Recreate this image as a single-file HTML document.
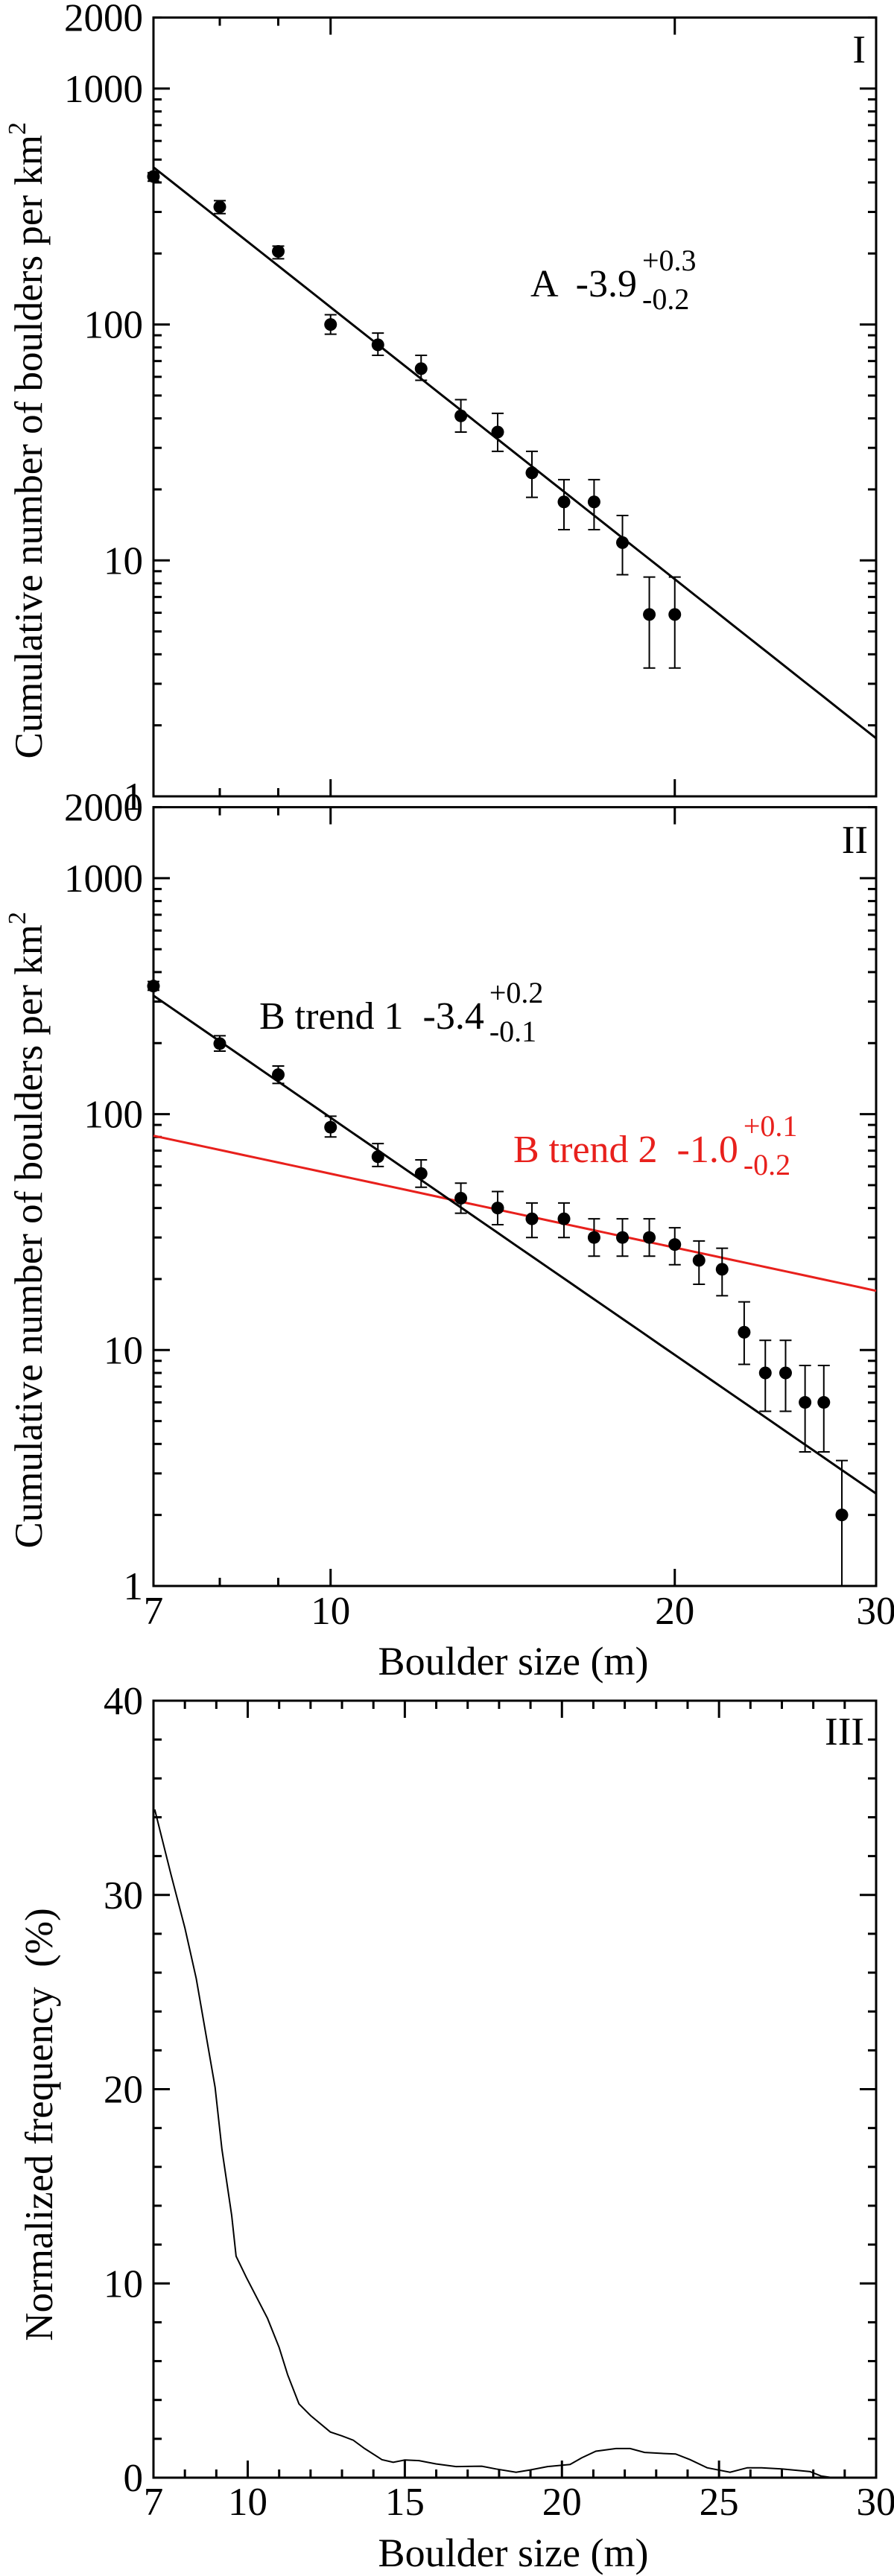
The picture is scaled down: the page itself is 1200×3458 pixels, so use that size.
<!DOCTYPE html>
<html><head><meta charset="utf-8"><title>Boulder size distribution</title>
<style>
html,body{margin:0;padding:0;background:#fff;}
svg{display:block;font-family:"Liberation Serif","DejaVu Serif",serif;}
svg text{font-family:"Liberation Serif","DejaVu Serif",serif;white-space:pre;}
</style></head>
<body>
<svg id="fig" width="1200" height="3458" viewBox="0 0 1200 3458" xmlns="http://www.w3.org/2000/svg" font-family="Liberation Serif, DejaVu Serif, serif" xml:space="preserve">
  <rect x="0" y="0" width="1200" height="3458" fill="#fff"/>
  <g id="p1"></g>
  <g id="p2"></g>
  <g id="p3"></g>
</svg>
<script>
// ---------- Panel I data ----------
const sizesA = [7, 8, 9, 10, 11, 12, 13, 14, 15, 16, 17, 18, 19, 20];
const countsA = [424, 315, 204, 100, 82, 65, 41, 35, 23.5, 17.7, 17.7, 11.9, 5.9, 5.9];
const errLowA = [405, 295, 190, 91, 74, 58, 35, 29, 18.5, 13.5, 13.5, 8.7, 3.5, 3.5];
const errHighA = [440, 335, 215, 110, 92, 74, 48, 42, 29, 22, 22, 15.5, 8.5, 8.5];
const fitA_at7 = [464];
const fitA_slope = [-3.83];

// ---------- Panel II data ----------
const sizesB = [7, 8, 9, 10, 11, 12, 13, 14, 15, 16, 17, 18, 19, 20, 21, 22, 23, 24, 25, 26, 27, 28];
const countsB = [349, 199, 147, 88, 66, 56, 44, 40, 36, 36, 30, 30, 30, 28, 24, 22, 11.9, 8, 8, 6, 6, 2];
const errLowB = [335, 185, 135, 80, 60, 49, 38, 34, 30, 30, 25, 25, 25, 23, 19, 17, 8.7, 5.5, 5.5, 3.7, 3.7, 1];
const errHighB = [365, 215, 160, 98, 75, 64, 51, 47, 42, 42, 36, 36, 36, 33, 29, 27, 16, 11, 11, 8.6, 8.6, 3.4];
const trend1_at7 = [318];
const trend1_slope = [-3.34];
const trend2_at7 = [81];
const trend2_slope = [-1.04];

// ---------- Panel III data ----------
const freqSizes = [7.04, 7.55, 8.0, 8.36, 8.96, 9.18, 9.49, 9.63, 9.96, 10.63, 11.0, 11.27, 11.63, 12.0, 12.63, 13.0, 13.36, 13.72, 14.27, 14.63, 15.0, 15.45, 15.99, 16.63, 17.45, 17.9, 18.54, 18.99, 19.54, 20.26, 20.63, 21.08, 21.72, 22.17, 22.63, 23.17, 23.62, 24.08, 24.62, 25.35, 25.9, 26.35, 26.99, 27.53, 27.9, 28.26, 28.62];
const freqValues = [34.4, 31.1, 28.3, 25.7, 20.1, 16.9, 13.5, 11.4, 10.3, 8.2, 6.7, 5.3, 3.8, 3.2, 2.35, 2.15, 1.93, 1.5, 0.93, 0.79, 0.91, 0.88, 0.71, 0.57, 0.59, 0.45, 0.28, 0.40, 0.57, 0.68, 1.02, 1.36, 1.50, 1.50, 1.30, 1.25, 1.22, 0.93, 0.51, 0.28, 0.51, 0.51, 0.45, 0.37, 0.31, 0.08, 0];

// ---------- tick label arrays ----------
const logYTicks = [1, 10, 100, 1000, 2000];
const logXLabels = [7, 10, 20, 30];
const linXLabels = [7, 10, 15, 20, 25, 30];
const linYLabels = [0, 10, 20, 30, 40];

const NS = "http://www.w3.org/2000/svg";
const FONT = '"Liberation Serif", "DejaVu Serif", serif';
const L = 206, R = 1176, DEC = 316.7;
function mk(parent, tag, attrs, text) {
  const e = document.createElementNS(NS, tag);
  for (const k in attrs) e.setAttribute(k, attrs[k]);
  if (tag === "text") { e.style.fontFamily = FONT; e.style.whiteSpace = "pre"; }
  if (text !== undefined) e.textContent = text;
  parent.appendChild(e);
  return e;
}
function xLog(v) { return L + Math.log(v / 7) / Math.log(30 / 7) * (R - L); }
function xLin(v) { return L + (v - 7) / 23 * (R - L); }

function logPanel(g, bottom, showXLabels) {
  const yv = v => bottom - Math.log10(v) * DEC;
  const top = yv(2000);
  let e = mk(g, "rect", {x: L, y: top, width: R - L, height: bottom - top, fill: "none", stroke: "#000", "stroke-width": 3});
  
  
  for (let d = 0; d < 4; d++) {
    for (let m = 1; m <= 9; m++) {
      const v = m * Math.pow(10, d);
      if (v > 2000 || v === 1) continue;
      const len = m === 1 ? 22 : 11;
      const y = yv(v);
      e = mk(g, "line", {x1: L, x2: L + len, y1: y, y2: y, stroke: "#000", "stroke-width": 3});
      
      
      e = mk(g, "line", {x1: R, x2: R - len, y1: y, y2: y, stroke: "#000", "stroke-width": 3});
      
      
    }
  }
  logYTicks.forEach(v => {
    e = mk(g, "text", {x: 192, y: yv(v) + 18, "text-anchor": "end", "font-size": 53}, String(v));
    
    
  });
  [[8, 11], [9, 11], [10, 23], [20, 23]].forEach(([v, len]) => {
    const x = xLog(v);
    e = mk(g, "line", {x1: x, x2: x, y1: bottom, y2: bottom - len, stroke: "#000", "stroke-width": 3});
    
    
    e = mk(g, "line", {x1: x, x2: x, y1: top, y2: top + len, stroke: "#000", "stroke-width": 3});
    
    
  });
  if (showXLabels) {
    logXLabels.forEach(v => {
      e = mk(g, "text", {x: xLog(v), y: bottom + 51, "text-anchor": "middle", "font-size": 53}, String(v));
      
      
    });
  }
  const yt = (top + bottom) / 2 + 45;
  e = mk(g, "text", {x: 0, y: 0, "text-anchor": "middle", "font-size": 53, transform: `translate(56,${yt}) rotate(-90)`});
  
  
  mk(e, "tspan", {}, "Cumulative number of boulders per km");
  mk(e, "tspan", {dy: -22, "font-size": 34}, "2");
  return yv;
}

function fitLine(g, yv, at7, slope, color, name) {
  const pts = [];
  for (let i = 0; i <= 40; i++) {
    const s = 7 * Math.pow(30 / 7, i / 40);
    pts.push(xLog(s).toFixed(1) + "," + yv(at7 * Math.pow(s / 7, slope)).toFixed(1));
  }
  const e = mk(g, "polyline", {points: pts.join(" "), fill: "none", stroke: color, "stroke-width": 3});
  
  
}

function points(g, yv, xs, ys, lo, hi) {
  xs.forEach((s, i) => {
    const x = xLog(s);
    let e = mk(g, "line", {x1: x, x2: x, y1: yv(lo[i]), y2: yv(hi[i]), stroke: "#000", "stroke-width": 2});
    
    
    [lo[i], hi[i]].forEach(v => {
      e = mk(g, "line", {x1: x - 8, x2: x + 8, y1: yv(v), y2: yv(v), stroke: "#000", "stroke-width": 2});
      
      
    });
    e = mk(g, "circle", {cx: x, cy: yv(ys[i]), r: 8.5, fill: "#000"});
    
    
  });
}

function annot(g, x, y, main, sup, sub, color, name) {
  const e = mk(g, "text", {x: x, y: y, "font-size": 52, fill: color}, main);
  
  
  const w = e.getComputedTextLength();
  const s1 = mk(g, "text", {x: x + w + 7, y: y - 35, "font-size": 40, fill: color}, sup);
  
  
  const s2 = mk(g, "text", {x: x + w + 7, y: y + 17, "font-size": 40, fill: color}, sub);
  
  
}

function panelLabel(g, x, y, t) {
  const e = mk(g, "text", {x: x, y: y, "text-anchor": "end", "font-size": 53}, t);
  
  
}

// Panel I
const g1 = document.getElementById("p1");
const y1 = logPanel(g1, 1069, false);
fitLine(g1, y1, fitA_at7[0], fitA_slope[0], "#000", "fit-line-a");
points(g1, y1, sizesA, countsA, errLowA, errHighA);
annot(g1, 712, 398, "A  -3.9", "+0.3", "-0.2", "#000", "fit-annotation-a");
panelLabel(g1, 1162, 84, "I");

// Panel II
const g2 = document.getElementById("p2");
const y2 = logPanel(g2, 2129, true);
fitLine(g2, y2, trend2_at7[0], trend2_slope[0], "#e8201c", "fit-line-trend-2");
fitLine(g2, y2, trend1_at7[0], trend1_slope[0], "#000", "fit-line-trend-1");
points(g2, y2, sizesB, countsB, errLowB, errHighB);
annot(g2, 348, 1381, "B trend 1  -3.4", "+0.2", "-0.1", "#000", "fit-annotation-trend-1");
annot(g2, 689, 1560, "B trend 2  -1.0", "+0.1", "-0.2", "#e8201c", "fit-annotation-trend-2");
panelLabel(g2, 1165, 1145, "II");
let t = mk(g2, "text", {x: 689, y: 2248, "text-anchor": "middle", "font-size": 54}, "Boulder size (m)");



// Panel III
const g3 = document.getElementById("p3");
const T3 = 2283, B3 = 3326;
const yLin = v => B3 - v / 40 * (B3 - T3);
let f = mk(g3, "rect", {x: L, y: T3, width: R - L, height: B3 - T3, fill: "none", stroke: "#000", "stroke-width": 3});


for (let v = 2; v < 40; v += 2) {
  const len = v % 10 === 0 ? 22 : 11;
  let e = mk(g3, "line", {x1: L, x2: L + len, y1: yLin(v), y2: yLin(v), stroke: "#000", "stroke-width": 3});
  
  
  e = mk(g3, "line", {x1: R, x2: R - len, y1: yLin(v), y2: yLin(v), stroke: "#000", "stroke-width": 3});
  
  
}
for (let v = 8; v < 30; v++) {
  const len = v % 5 === 0 ? 23 : 11;
  let e = mk(g3, "line", {x1: xLin(v), x2: xLin(v), y1: B3, y2: B3 - len, stroke: "#000", "stroke-width": 3});
  
  
  e = mk(g3, "line", {x1: xLin(v), x2: xLin(v), y1: T3, y2: T3 + len, stroke: "#000", "stroke-width": 3});
  
  
}
linYLabels.forEach(v => {
  const e = mk(g3, "text", {x: 192, y: yLin(v) + 18, "text-anchor": "end", "font-size": 53}, String(v));
  
  
});
linXLabels.forEach(v => {
  const e = mk(g3, "text", {x: xLin(v), y: B3 + 50, "text-anchor": "middle", "font-size": 53}, String(v));
  
  
});
const fpts = freqSizes.map((s, i) => xLin(s).toFixed(1) + "," + yLin(freqValues[i]).toFixed(1)).join(" ");
let c = mk(g3, "polyline", {points: fpts, fill: "none", stroke: "#000", "stroke-width": 2});


panelLabel(g3, 1160, 2342, "III");
t = mk(g3, "text", {x: 0, y: 0, "text-anchor": "middle", "font-size": 53, transform: `translate(70,2852) rotate(-90)`}, "Normalized frequency  (%)");


t = mk(g3, "text", {x: 689, y: 3445, "text-anchor": "middle", "font-size": 54}, "Boulder size (m)");


</script>
</body></html>
